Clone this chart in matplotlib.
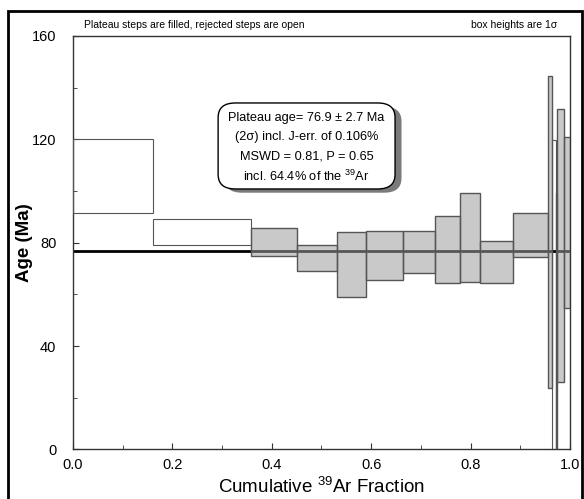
import matplotlib
matplotlib.use('Agg')
import matplotlib.pyplot as plt
from matplotlib.patches import FancyBboxPatch, Rectangle
from matplotlib.ticker import MultipleLocator, FormatStrFormatter
import numpy as np

plt.rcParams['font.family'] = ['Liberation Sans', 'DejaVu Sans']
plt.rcParams['mathtext.fontset'] = 'custom'
plt.rcParams['mathtext.rm'] = 'Liberation Sans'

# step heating results: cumulative 39Ar fraction at the end of each step,
# apparent age (Ma) and 1 sigma error, plateau membership
cum_frac = [0.160, 0.359, 0.451, 0.532, 0.589, 0.663, 0.728, 0.778,
            0.818, 0.886, 0.956, 0.964, 0.971, 0.974, 0.988, 1.000]
age = [105.8, 84.05, 80.35, 74.05, 71.5, 75.15, 76.45, 77.3,
       82.05, 72.55, 83.0, 84.15, 40.0, 35.0, 78.9, 87.8]
err = [14.2, 5.05, 5.45, 5.15, 12.5, 9.45, 8.15, 13.0,
       17.15, 8.25, 8.6, 60.45, 79.7, 64.3, 52.7, 33.2]
in_plateau = [False, False, True, True, True, True, True, True,
              True, True, True, True, False, True, True, True]

plateau_age = 76.9
plateau_err = 2.7
mswd = 0.81
prob = 0.65
j_err = 0.106
ar_pct = 64.4

fig = plt.figure(figsize=(5.84, 4.99), dpi=100)
ax = fig.add_axes([0.125, 0.0992, 0.851, 0.8287])

left = np.concatenate([[0.0], cum_frac[:-1]])
width = np.array(cum_frac) - left
age = np.array(age)
err = np.array(err)
mask = np.array(in_plateau)

ax.plot([0, 1], [plateau_age, plateau_age], color='black', lw=2, zorder=2)

ax.bar(left[mask], 2 * err[mask], bottom=age[mask] - err[mask], width=width[mask],
       align='edge', facecolor=(0.62, 0.62, 0.62, 0.55), edgecolor='#555555',
       linewidth=1.0, zorder=3)
ax.bar(left[~mask], 2 * err[~mask], bottom=age[~mask] - err[~mask], width=width[~mask],
       align='edge', facecolor='none', edgecolor='#555555', linewidth=0.8, zorder=3)

ax.set_xlim(0, 1)
ax.set_ylim(0, 160)
ax.xaxis.set_major_locator(MultipleLocator(0.2))
ax.xaxis.set_minor_locator(MultipleLocator(0.1))
ax.yaxis.set_major_locator(MultipleLocator(40))
ax.yaxis.set_minor_locator(MultipleLocator(20))
ax.xaxis.set_major_formatter(FormatStrFormatter('%.1f'))
ax.tick_params(which='both', direction='in', labelsize=10.5, color='#333333')
ax.tick_params(which='major', length=4, pad=6)
ax.tick_params(which='minor', length=3)
ax.tick_params(axis='y', pad=12)
for s in ax.spines.values():
    s.set_color('#333333')
    s.set_linewidth(1.0)

ax.set_xlabel('Cumulative $^{39}$Ar Fraction', fontsize=13.5, labelpad=3)
ax.set_ylabel('Age (Ma)', fontsize=13.5, fontweight='bold', va='center')
ax.yaxis.set_label_coords(-0.097, 0.5)

ax.text(0.022, 1.027, 'Plateau steps are filled, rejected steps are open',
        transform=ax.transAxes, fontsize=7.5, ha='left', va='center')
ax.text(0.974, 1.027, 'box heights are 1\u03c3',
        transform=ax.transAxes, fontsize=7.5, ha='right', va='center')

# result box with drop shadow
bx0, by0, bw, bh = 0.292, 0.630, 0.356, 0.208
shadow = FancyBboxPatch((bx0 + 0.013, by0 - 0.009), bw, bh,
                        boxstyle='round,pad=0,rounding_size=0.035',
                        transform=ax.transAxes, facecolor='#7a7a7a',
                        edgecolor='none', zorder=5)
box = FancyBboxPatch((bx0, by0), bw, bh,
                     boxstyle='round,pad=0,rounding_size=0.035',
                     transform=ax.transAxes, facecolor='white',
                     edgecolor='black', linewidth=1.0, zorder=6)
ax.add_patch(shadow)
ax.add_patch(box)
lines = [
    'Plateau age= {0} \u00b1 {1} Ma'.format(plateau_age, plateau_err),
    '(2\u03c3) incl. J-err. of {0}%'.format(j_err),
    'MSWD = {0}, P = {1}'.format(mswd, prob),
    'incl. {0}% of the $^{{39}}$Ar'.format(ar_pct),
]
for i, t in enumerate(lines):
    ax.text(bx0 + bw / 2, by0 + bh - 0.037 - i * 0.0465, t, transform=ax.transAxes,
            fontsize=9.2, ha='center', va='center', zorder=7)

# outer frame
fig.patches.append(Rectangle((8 / 584, -0.05), 574 / 584, 1.05 - 11 / 499,
                             transform=fig.transFigure, fill=False,
                             edgecolor='black', linewidth=2))

fig.savefig('out.png', dpi=100)
